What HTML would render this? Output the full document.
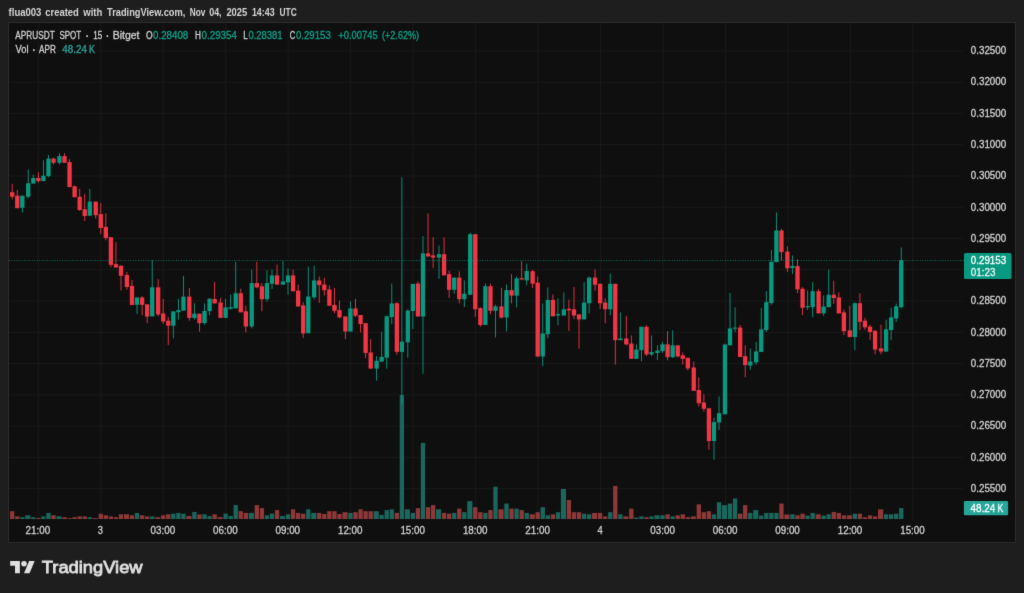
<!DOCTYPE html>
<html lang="en"><head><meta charset="utf-8">
<title>APRUSDT SPOT · 15 · Bitget — TradingView</title>
<style>
html,body{margin:0;padding:0;background:#1e1e1e;}
body{width:1024px;height:593px;overflow:hidden;}
svg{display:block;will-change:transform;}
text{font-family:"Liberation Sans", "DejaVu Sans", sans-serif;}
</style></head><body>
<svg width="1024" height="593" viewBox="0 0 1024 593" role="img" aria-label="APRUSDT SPOT 15 minute candlestick chart">
<defs><filter id="soft" x="0" y="0" width="1024" height="593" filterUnits="userSpaceOnUse" color-interpolation-filters="sRGB"><feConvolveMatrix order="3" kernelMatrix="0.00810 0.07380 0.00810 0.07380 0.67240 0.07380 0.00810 0.07380 0.00810" divisor="1" edgeMode="duplicate" preserveAlpha="true"/></filter></defs>
<g filter="url(#soft)">
<rect width="1024" height="593" fill="#1e1e1e"/>
<rect x="8.5" y="22.5" width="1007" height="520" fill="#0f0f0f" stroke="#2c2c2c" stroke-width="1"/>
<g stroke="#1a1a1a" stroke-width="1" fill="none">
<line x1="38.30" y1="23" x2="38.30" y2="519.5"/>
<line x1="100.77" y1="23" x2="100.77" y2="519.5"/>
<line x1="163.24" y1="23" x2="163.24" y2="519.5"/>
<line x1="225.71" y1="23" x2="225.71" y2="519.5"/>
<line x1="288.18" y1="23" x2="288.18" y2="519.5"/>
<line x1="350.65" y1="23" x2="350.65" y2="519.5"/>
<line x1="413.12" y1="23" x2="413.12" y2="519.5"/>
<line x1="475.59" y1="23" x2="475.59" y2="519.5"/>
<line x1="538.06" y1="23" x2="538.06" y2="519.5"/>
<line x1="600.53" y1="23" x2="600.53" y2="519.5"/>
<line x1="663.00" y1="23" x2="663.00" y2="519.5"/>
<line x1="725.47" y1="23" x2="725.47" y2="519.5"/>
<line x1="787.94" y1="23" x2="787.94" y2="519.5"/>
<line x1="850.41" y1="23" x2="850.41" y2="519.5"/>
<line x1="912.88" y1="23" x2="912.88" y2="519.5"/>
<line x1="9" y1="50.90" x2="962.9" y2="50.90"/>
<line x1="9" y1="82.17" x2="962.9" y2="82.17"/>
<line x1="9" y1="113.44" x2="962.9" y2="113.44"/>
<line x1="9" y1="144.71" x2="962.9" y2="144.71"/>
<line x1="9" y1="175.98" x2="962.9" y2="175.98"/>
<line x1="9" y1="207.25" x2="962.9" y2="207.25"/>
<line x1="9" y1="238.52" x2="962.9" y2="238.52"/>
<line x1="9" y1="269.79" x2="962.9" y2="269.79"/>
<line x1="9" y1="301.06" x2="962.9" y2="301.06"/>
<line x1="9" y1="332.33" x2="962.9" y2="332.33"/>
<line x1="9" y1="363.60" x2="962.9" y2="363.60"/>
<line x1="9" y1="394.87" x2="962.9" y2="394.87"/>
<line x1="9" y1="426.14" x2="962.9" y2="426.14"/>
<line x1="9" y1="457.41" x2="962.9" y2="457.41"/>
<line x1="9" y1="488.68" x2="962.9" y2="488.68"/>
</g>
<g><rect x="10.05" y="511.20" width="4.30" height="7.80" fill="#8f3838"/><rect x="15.11" y="516.40" width="4.30" height="2.60" fill="#8f3838"/><rect x="20.17" y="517.20" width="4.30" height="1.80" fill="#1a675d"/><rect x="25.24" y="515.30" width="5.14" height="3.70" fill="#1a675d"/><rect x="31.14" y="517.20" width="4.30" height="1.80" fill="#1a675d"/><rect x="36.20" y="517.90" width="4.30" height="1.10" fill="#8f3838"/><rect x="41.26" y="516.40" width="4.30" height="2.60" fill="#1a675d"/><rect x="46.32" y="512.90" width="4.30" height="6.10" fill="#1a675d"/><rect x="51.38" y="515.30" width="4.30" height="3.70" fill="#8f3838"/><rect x="56.45" y="516.40" width="5.14" height="2.60" fill="#1a675d"/><rect x="62.35" y="517.20" width="4.30" height="1.80" fill="#8f3838"/><rect x="67.41" y="518.10" width="4.30" height="0.90" fill="#8f3838"/><rect x="72.47" y="517.20" width="4.30" height="1.80" fill="#8f3838"/><rect x="77.53" y="516.40" width="4.30" height="2.60" fill="#8f3838"/><rect x="82.59" y="516.40" width="4.30" height="2.60" fill="#8f3838"/><rect x="87.65" y="517.20" width="4.30" height="1.80" fill="#1a675d"/><rect x="92.72" y="518.10" width="5.14" height="0.90" fill="#8f3838"/><rect x="98.62" y="513.70" width="4.30" height="5.30" fill="#8f3838"/><rect x="103.68" y="515.30" width="4.30" height="3.70" fill="#8f3838"/><rect x="108.74" y="516.40" width="4.30" height="2.60" fill="#8f3838"/><rect x="113.80" y="517.20" width="4.30" height="1.80" fill="#8f3838"/><rect x="118.86" y="514.30" width="4.30" height="4.70" fill="#8f3838"/><rect x="123.93" y="514.30" width="5.14" height="4.70" fill="#8f3838"/><rect x="129.83" y="515.30" width="4.30" height="3.70" fill="#8f3838"/><rect x="134.89" y="512.90" width="4.30" height="6.10" fill="#1a675d"/><rect x="139.95" y="515.30" width="4.30" height="3.70" fill="#8f3838"/><rect x="145.01" y="516.40" width="4.30" height="2.60" fill="#8f3838"/><rect x="150.07" y="516.40" width="4.30" height="2.60" fill="#1a675d"/><rect x="155.14" y="517.20" width="5.14" height="1.80" fill="#8f3838"/><rect x="161.04" y="515.30" width="4.30" height="3.70" fill="#8f3838"/><rect x="166.10" y="514.30" width="4.30" height="4.70" fill="#8f3838"/><rect x="171.16" y="513.70" width="4.30" height="5.30" fill="#1a675d"/><rect x="176.22" y="512.90" width="4.30" height="6.10" fill="#1a675d"/><rect x="181.28" y="513.70" width="4.30" height="5.30" fill="#1a675d"/><rect x="186.34" y="516.10" width="5.14" height="2.90" fill="#8f3838"/><rect x="192.25" y="512.00" width="4.30" height="7.00" fill="#1a675d"/><rect x="197.31" y="514.50" width="4.30" height="4.50" fill="#8f3838"/><rect x="202.37" y="514.30" width="4.30" height="4.70" fill="#1a675d"/><rect x="207.43" y="516.10" width="4.30" height="2.90" fill="#1a675d"/><rect x="212.49" y="514.30" width="4.30" height="4.70" fill="#8f3838"/><rect x="217.55" y="517.20" width="5.14" height="1.80" fill="#8f3838"/><rect x="223.46" y="513.60" width="4.30" height="5.40" fill="#1a675d"/><rect x="228.52" y="516.10" width="4.30" height="2.90" fill="#1a675d"/><rect x="233.58" y="505.10" width="4.30" height="13.90" fill="#1a675d"/><rect x="238.64" y="511.20" width="4.30" height="7.80" fill="#8f3838"/><rect x="243.70" y="512.90" width="4.30" height="6.10" fill="#8f3838"/><rect x="248.76" y="512.90" width="5.14" height="6.10" fill="#1a675d"/><rect x="254.66" y="505.10" width="4.30" height="13.90" fill="#8f3838"/><rect x="259.73" y="508.10" width="4.30" height="10.90" fill="#8f3838"/><rect x="264.79" y="515.30" width="4.30" height="3.70" fill="#1a675d"/><rect x="269.85" y="513.60" width="4.30" height="5.40" fill="#1a675d"/><rect x="274.91" y="510.10" width="4.30" height="8.90" fill="#8f3838"/><rect x="279.97" y="516.10" width="5.14" height="2.90" fill="#1a675d"/><rect x="285.87" y="514.30" width="4.30" height="4.70" fill="#1a675d"/><rect x="290.94" y="509.30" width="4.30" height="9.70" fill="#8f3838"/><rect x="296.00" y="512.90" width="4.30" height="6.10" fill="#8f3838"/><rect x="301.06" y="513.70" width="4.30" height="5.30" fill="#8f3838"/><rect x="306.12" y="509.30" width="4.30" height="9.70" fill="#1a675d"/><rect x="311.18" y="512.90" width="5.14" height="6.10" fill="#1a675d"/><rect x="317.08" y="512.90" width="4.30" height="6.10" fill="#8f3838"/><rect x="322.15" y="514.00" width="4.30" height="5.00" fill="#8f3838"/><rect x="327.21" y="511.20" width="4.30" height="7.80" fill="#8f3838"/><rect x="332.27" y="511.20" width="4.30" height="7.80" fill="#8f3838"/><rect x="337.33" y="514.00" width="4.30" height="5.00" fill="#8f3838"/><rect x="342.39" y="512.20" width="5.14" height="6.80" fill="#8f3838"/><rect x="348.29" y="512.90" width="4.30" height="6.10" fill="#1a675d"/><rect x="353.35" y="512.20" width="4.30" height="6.80" fill="#8f3838"/><rect x="358.42" y="509.30" width="4.30" height="9.70" fill="#8f3838"/><rect x="363.48" y="511.20" width="4.30" height="7.80" fill="#8f3838"/><rect x="368.54" y="511.20" width="4.30" height="7.80" fill="#8f3838"/><rect x="373.60" y="511.20" width="5.14" height="7.80" fill="#1a675d"/><rect x="379.50" y="514.80" width="4.30" height="4.20" fill="#1a675d"/><rect x="384.56" y="510.10" width="4.30" height="8.90" fill="#1a675d"/><rect x="389.62" y="509.30" width="4.30" height="9.70" fill="#1a675d"/><rect x="394.69" y="512.90" width="4.30" height="6.10" fill="#8f3838"/><rect x="399.75" y="395.00" width="4.30" height="124.00" fill="#1a675d"/><rect x="404.81" y="509.30" width="5.14" height="9.70" fill="#1a675d"/><rect x="410.71" y="512.90" width="4.30" height="6.10" fill="#1a675d"/><rect x="415.77" y="508.10" width="4.30" height="10.90" fill="#8f3838"/><rect x="420.83" y="442.90" width="4.30" height="76.10" fill="#1a675d"/><rect x="425.90" y="507.20" width="4.30" height="11.80" fill="#8f3838"/><rect x="430.96" y="505.10" width="4.30" height="13.90" fill="#8f3838"/><rect x="436.02" y="509.30" width="5.14" height="9.70" fill="#1a675d"/><rect x="441.92" y="512.90" width="4.30" height="6.10" fill="#8f3838"/><rect x="446.98" y="513.70" width="4.30" height="5.30" fill="#8f3838"/><rect x="452.04" y="512.90" width="4.30" height="6.10" fill="#1a675d"/><rect x="457.11" y="508.60" width="4.30" height="10.40" fill="#8f3838"/><rect x="462.17" y="512.20" width="4.30" height="6.80" fill="#1a675d"/><rect x="467.23" y="501.10" width="5.14" height="17.90" fill="#1a675d"/><rect x="473.13" y="507.20" width="4.30" height="11.80" fill="#8f3838"/><rect x="478.19" y="512.20" width="4.30" height="6.80" fill="#8f3838"/><rect x="483.25" y="512.90" width="4.30" height="6.10" fill="#1a675d"/><rect x="488.31" y="510.10" width="4.30" height="8.90" fill="#8f3838"/><rect x="493.38" y="486.70" width="4.30" height="32.30" fill="#1a675d"/><rect x="498.44" y="509.30" width="5.14" height="9.70" fill="#8f3838"/><rect x="504.34" y="503.60" width="4.30" height="15.40" fill="#1a675d"/><rect x="509.40" y="508.60" width="4.30" height="10.40" fill="#8f3838"/><rect x="514.46" y="508.60" width="4.30" height="10.40" fill="#1a675d"/><rect x="519.52" y="510.10" width="4.30" height="8.90" fill="#8f3838"/><rect x="524.59" y="512.90" width="4.30" height="6.10" fill="#1a675d"/><rect x="529.65" y="514.30" width="5.14" height="4.70" fill="#8f3838"/><rect x="535.55" y="512.20" width="4.30" height="6.80" fill="#8f3838"/><rect x="540.61" y="507.20" width="4.30" height="11.80" fill="#1a675d"/><rect x="545.67" y="515.30" width="4.30" height="3.70" fill="#1a675d"/><rect x="550.73" y="514.30" width="4.30" height="4.70" fill="#8f3838"/><rect x="555.79" y="512.20" width="4.30" height="6.80" fill="#1a675d"/><rect x="560.86" y="489.00" width="5.14" height="30.00" fill="#1a675d"/><rect x="566.76" y="500.00" width="4.30" height="19.00" fill="#8f3838"/><rect x="571.82" y="512.20" width="4.30" height="6.80" fill="#8f3838"/><rect x="576.88" y="512.20" width="4.30" height="6.80" fill="#8f3838"/><rect x="581.94" y="513.70" width="4.30" height="5.30" fill="#1a675d"/><rect x="587.00" y="514.30" width="4.30" height="4.70" fill="#1a675d"/><rect x="592.07" y="512.90" width="5.14" height="6.10" fill="#8f3838"/><rect x="597.97" y="512.90" width="4.30" height="6.10" fill="#8f3838"/><rect x="603.03" y="516.40" width="4.30" height="2.60" fill="#8f3838"/><rect x="608.09" y="512.20" width="4.30" height="6.80" fill="#1a675d"/><rect x="613.15" y="485.90" width="4.30" height="33.10" fill="#8f3838"/><rect x="618.21" y="514.30" width="4.30" height="4.70" fill="#1a675d"/><rect x="623.28" y="516.40" width="5.14" height="2.60" fill="#8f3838"/><rect x="629.18" y="508.60" width="4.30" height="10.40" fill="#8f3838"/><rect x="634.24" y="517.50" width="4.30" height="1.50" fill="#1a675d"/><rect x="639.30" y="516.40" width="4.30" height="2.60" fill="#1a675d"/><rect x="644.36" y="517.20" width="4.30" height="1.80" fill="#8f3838"/><rect x="649.42" y="516.40" width="4.30" height="2.60" fill="#1a675d"/><rect x="654.49" y="515.30" width="5.14" height="3.70" fill="#1a675d"/><rect x="660.39" y="515.30" width="4.30" height="3.70" fill="#1a675d"/><rect x="665.45" y="514.30" width="4.30" height="4.70" fill="#8f3838"/><rect x="670.51" y="516.40" width="4.30" height="2.60" fill="#1a675d"/><rect x="675.57" y="515.30" width="4.30" height="3.70" fill="#8f3838"/><rect x="680.63" y="514.30" width="4.30" height="4.70" fill="#8f3838"/><rect x="685.69" y="517.20" width="4.30" height="1.80" fill="#8f3838"/><rect x="690.76" y="516.40" width="5.14" height="2.60" fill="#8f3838"/><rect x="696.66" y="504.30" width="4.30" height="14.70" fill="#8f3838"/><rect x="701.72" y="512.20" width="4.30" height="6.80" fill="#8f3838"/><rect x="706.78" y="511.20" width="4.30" height="7.80" fill="#8f3838"/><rect x="711.84" y="514.30" width="4.30" height="4.70" fill="#1a675d"/><rect x="716.90" y="502.20" width="4.30" height="16.80" fill="#1a675d"/><rect x="721.97" y="505.10" width="5.14" height="13.90" fill="#1a675d"/><rect x="727.87" y="503.60" width="4.30" height="15.40" fill="#1a675d"/><rect x="732.93" y="498.40" width="4.30" height="20.60" fill="#1a675d"/><rect x="737.99" y="513.70" width="4.30" height="5.30" fill="#8f3838"/><rect x="743.05" y="505.10" width="4.30" height="13.90" fill="#8f3838"/><rect x="748.11" y="512.90" width="4.30" height="6.10" fill="#1a675d"/><rect x="753.18" y="510.10" width="5.14" height="8.90" fill="#1a675d"/><rect x="759.08" y="515.60" width="4.30" height="3.40" fill="#1a675d"/><rect x="764.14" y="512.90" width="4.30" height="6.10" fill="#1a675d"/><rect x="769.20" y="512.90" width="4.30" height="6.10" fill="#1a675d"/><rect x="774.26" y="512.90" width="4.30" height="6.10" fill="#1a675d"/><rect x="779.32" y="503.60" width="4.30" height="15.40" fill="#8f3838"/><rect x="784.39" y="514.50" width="5.14" height="4.50" fill="#8f3838"/><rect x="790.29" y="514.30" width="4.30" height="4.70" fill="#1a675d"/><rect x="795.35" y="515.30" width="4.30" height="3.70" fill="#8f3838"/><rect x="800.41" y="513.70" width="4.30" height="5.30" fill="#8f3838"/><rect x="805.47" y="515.60" width="4.30" height="3.40" fill="#1a675d"/><rect x="810.53" y="512.90" width="4.30" height="6.10" fill="#1a675d"/><rect x="815.60" y="514.30" width="5.14" height="4.70" fill="#8f3838"/><rect x="821.50" y="515.60" width="4.30" height="3.40" fill="#1a675d"/><rect x="826.56" y="514.30" width="4.30" height="4.70" fill="#1a675d"/><rect x="831.62" y="512.00" width="4.30" height="7.00" fill="#8f3838"/><rect x="836.68" y="512.90" width="4.30" height="6.10" fill="#8f3838"/><rect x="841.74" y="515.30" width="4.30" height="3.70" fill="#8f3838"/><rect x="846.81" y="515.30" width="5.14" height="3.70" fill="#8f3838"/><rect x="852.71" y="513.70" width="4.30" height="5.30" fill="#1a675d"/><rect x="857.77" y="513.70" width="4.30" height="5.30" fill="#8f3838"/><rect x="862.83" y="517.20" width="4.30" height="1.80" fill="#8f3838"/><rect x="867.89" y="515.30" width="4.30" height="3.70" fill="#8f3838"/><rect x="872.95" y="516.40" width="4.30" height="2.60" fill="#8f3838"/><rect x="878.02" y="509.30" width="5.14" height="9.70" fill="#8f3838"/><rect x="883.92" y="514.30" width="4.30" height="4.70" fill="#1a675d"/><rect x="888.98" y="514.30" width="4.30" height="4.70" fill="#1a675d"/><rect x="894.04" y="513.70" width="4.30" height="5.30" fill="#1a675d"/><rect x="899.10" y="508.10" width="4.30" height="10.90" fill="#1a675d"/></g>
<g><rect x="11.75" y="183.90" width="0.9" height="15.35" fill="#f23645"/><rect x="16.81" y="189.90" width="0.9" height="18.30" fill="#f23645"/><rect x="21.87" y="195.70" width="0.9" height="16.80" fill="#089981"/><rect x="27.78" y="169.40" width="0.9" height="28.90" fill="#089981"/><rect x="32.84" y="174.60" width="0.9" height="9.00" fill="#089981"/><rect x="37.90" y="172.20" width="0.9" height="10.50" fill="#f23645"/><rect x="42.96" y="160.20" width="0.9" height="20.90" fill="#089981"/><rect x="48.02" y="155.00" width="0.9" height="22.20" fill="#089981"/><rect x="53.08" y="157.70" width="0.9" height="6.70" fill="#f23645"/><rect x="58.99" y="153.20" width="0.9" height="11.20" fill="#089981"/><rect x="64.05" y="153.20" width="0.9" height="9.60" fill="#f23645"/><rect x="69.11" y="159.25" width="0.9" height="27.85" fill="#f23645"/><rect x="74.17" y="185.50" width="0.9" height="11.70" fill="#f23645"/><rect x="79.23" y="188.90" width="0.9" height="21.90" fill="#f23645"/><rect x="84.29" y="194.10" width="0.9" height="26.90" fill="#f23645"/><rect x="89.35" y="188.90" width="0.9" height="26.80" fill="#089981"/><rect x="95.26" y="201.60" width="0.9" height="17.00" fill="#f23645"/><rect x="100.32" y="203.00" width="0.9" height="30.90" fill="#f23645"/><rect x="105.38" y="213.30" width="0.9" height="26.90" fill="#f23645"/><rect x="110.44" y="237.20" width="0.9" height="30.00" fill="#f23645"/><rect x="115.50" y="242.20" width="0.9" height="25.30" fill="#f23645"/><rect x="120.56" y="264.90" width="0.9" height="25.70" fill="#f23645"/><rect x="126.47" y="271.90" width="0.9" height="17.90" fill="#f23645"/><rect x="131.53" y="280.00" width="0.9" height="25.00" fill="#f23645"/><rect x="136.59" y="297.50" width="0.9" height="16.70" fill="#089981"/><rect x="141.65" y="296.30" width="0.9" height="18.90" fill="#f23645"/><rect x="146.71" y="304.30" width="0.9" height="18.80" fill="#f23645"/><rect x="151.77" y="260.20" width="0.9" height="56.20" fill="#089981"/><rect x="157.68" y="279.20" width="0.9" height="37.00" fill="#f23645"/><rect x="162.74" y="299.00" width="0.9" height="24.90" fill="#f23645"/><rect x="167.80" y="317.10" width="0.9" height="27.90" fill="#f23645"/><rect x="172.86" y="311.40" width="0.9" height="27.00" fill="#089981"/><rect x="177.92" y="298.80" width="0.9" height="20.80" fill="#089981"/><rect x="182.98" y="275.80" width="0.9" height="34.80" fill="#089981"/><rect x="188.89" y="288.00" width="0.9" height="32.70" fill="#f23645"/><rect x="193.95" y="303.30" width="0.9" height="16.30" fill="#089981"/><rect x="199.01" y="313.70" width="0.9" height="18.00" fill="#f23645"/><rect x="204.07" y="303.30" width="0.9" height="21.30" fill="#089981"/><rect x="209.13" y="298.00" width="0.9" height="17.20" fill="#089981"/><rect x="214.19" y="282.00" width="0.9" height="21.40" fill="#f23645"/><rect x="220.09" y="298.10" width="0.9" height="19.80" fill="#f23645"/><rect x="225.16" y="298.80" width="0.9" height="19.10" fill="#089981"/><rect x="230.22" y="294.50" width="0.9" height="15.00" fill="#089981"/><rect x="235.28" y="261.70" width="0.9" height="46.60" fill="#089981"/><rect x="240.34" y="288.60" width="0.9" height="23.70" fill="#f23645"/><rect x="245.40" y="305.70" width="0.9" height="26.70" fill="#f23645"/><rect x="251.30" y="269.50" width="0.9" height="58.90" fill="#089981"/><rect x="256.37" y="261.70" width="0.9" height="26.50" fill="#f23645"/><rect x="261.43" y="283.20" width="0.9" height="28.10" fill="#f23645"/><rect x="266.49" y="270.20" width="0.9" height="31.30" fill="#089981"/><rect x="271.55" y="269.50" width="0.9" height="19.50" fill="#089981"/><rect x="276.61" y="264.50" width="0.9" height="20.10" fill="#f23645"/><rect x="282.51" y="260.90" width="0.9" height="23.70" fill="#089981"/><rect x="287.57" y="268.40" width="0.9" height="26.40" fill="#089981"/><rect x="292.64" y="269.50" width="0.9" height="21.80" fill="#f23645"/><rect x="297.70" y="284.60" width="0.9" height="21.90" fill="#f23645"/><rect x="302.76" y="302.30" width="0.9" height="35.60" fill="#f23645"/><rect x="307.82" y="266.65" width="0.9" height="66.55" fill="#089981"/><rect x="313.72" y="265.60" width="0.9" height="33.55" fill="#089981"/><rect x="318.78" y="276.50" width="0.9" height="26.50" fill="#f23645"/><rect x="323.85" y="277.70" width="0.9" height="17.90" fill="#f23645"/><rect x="328.91" y="285.40" width="0.9" height="20.30" fill="#f23645"/><rect x="333.97" y="287.90" width="0.9" height="25.30" fill="#f23645"/><rect x="339.03" y="300.70" width="0.9" height="17.70" fill="#f23645"/><rect x="344.93" y="316.50" width="0.9" height="22.60" fill="#f23645"/><rect x="349.99" y="301.50" width="0.9" height="30.00" fill="#089981"/><rect x="355.05" y="298.80" width="0.9" height="18.40" fill="#f23645"/><rect x="360.12" y="315.00" width="0.9" height="17.50" fill="#f23645"/><rect x="365.18" y="323.20" width="0.9" height="34.50" fill="#f23645"/><rect x="370.24" y="339.10" width="0.9" height="29.50" fill="#f23645"/><rect x="376.14" y="356.10" width="0.9" height="24.50" fill="#089981"/><rect x="381.20" y="331.70" width="0.9" height="29.90" fill="#089981"/><rect x="386.26" y="315.50" width="0.9" height="53.10" fill="#089981"/><rect x="391.32" y="283.50" width="0.9" height="40.50" fill="#089981"/><rect x="396.39" y="302.30" width="0.9" height="52.50" fill="#f23645"/><rect x="401.45" y="177.20" width="0.9" height="227.60" fill="#089981"/><rect x="407.35" y="309.20" width="0.9" height="48.50" fill="#089981"/><rect x="412.41" y="283.90" width="0.9" height="45.20" fill="#089981"/><rect x="417.47" y="281.50" width="0.9" height="35.00" fill="#f23645"/><rect x="422.53" y="236.10" width="0.9" height="137.65" fill="#089981"/><rect x="427.60" y="213.40" width="0.9" height="43.10" fill="#f23645"/><rect x="432.66" y="237.20" width="0.9" height="30.70" fill="#f23645"/><rect x="438.56" y="245.50" width="0.9" height="33.40" fill="#089981"/><rect x="443.62" y="237.20" width="0.9" height="38.10" fill="#f23645"/><rect x="448.68" y="270.60" width="0.9" height="27.30" fill="#f23645"/><rect x="453.74" y="277.60" width="0.9" height="16.10" fill="#089981"/><rect x="458.81" y="271.40" width="0.9" height="32.00" fill="#f23645"/><rect x="463.87" y="280.40" width="0.9" height="26.60" fill="#089981"/><rect x="469.77" y="232.50" width="0.9" height="62.30" fill="#089981"/><rect x="474.83" y="234.20" width="0.9" height="82.55" fill="#f23645"/><rect x="479.89" y="307.30" width="0.9" height="19.50" fill="#f23645"/><rect x="484.95" y="283.55" width="0.9" height="41.45" fill="#089981"/><rect x="490.01" y="283.55" width="0.9" height="30.70" fill="#f23645"/><rect x="495.08" y="304.70" width="0.9" height="32.80" fill="#089981"/><rect x="500.98" y="287.80" width="0.9" height="30.60" fill="#f23645"/><rect x="506.04" y="284.60" width="0.9" height="46.70" fill="#089981"/><rect x="511.10" y="274.20" width="0.9" height="29.20" fill="#f23645"/><rect x="516.16" y="276.40" width="0.9" height="30.95" fill="#089981"/><rect x="521.22" y="261.20" width="0.9" height="18.30" fill="#f23645"/><rect x="526.28" y="263.55" width="0.9" height="21.85" fill="#089981"/><rect x="532.19" y="270.00" width="0.9" height="18.00" fill="#f23645"/><rect x="537.25" y="276.45" width="0.9" height="80.75" fill="#f23645"/><rect x="542.31" y="303.40" width="0.9" height="62.70" fill="#089981"/><rect x="547.37" y="287.40" width="0.9" height="50.90" fill="#089981"/><rect x="552.43" y="294.40" width="0.9" height="21.90" fill="#f23645"/><rect x="557.49" y="298.40" width="0.9" height="26.80" fill="#089981"/><rect x="563.40" y="292.40" width="0.9" height="23.10" fill="#089981"/><rect x="568.46" y="299.60" width="0.9" height="31.40" fill="#f23645"/><rect x="573.52" y="287.10" width="0.9" height="31.90" fill="#f23645"/><rect x="578.58" y="314.40" width="0.9" height="34.30" fill="#f23645"/><rect x="583.64" y="282.20" width="0.9" height="37.20" fill="#089981"/><rect x="588.70" y="276.50" width="0.9" height="37.00" fill="#089981"/><rect x="594.61" y="269.40" width="0.9" height="21.10" fill="#f23645"/><rect x="599.67" y="283.80" width="0.9" height="25.20" fill="#f23645"/><rect x="604.73" y="298.30" width="0.9" height="25.00" fill="#f23645"/><rect x="609.79" y="273.65" width="0.9" height="41.55" fill="#089981"/><rect x="614.85" y="283.80" width="0.9" height="80.80" fill="#f23645"/><rect x="619.91" y="312.40" width="0.9" height="27.80" fill="#089981"/><rect x="625.82" y="315.80" width="0.9" height="29.55" fill="#f23645"/><rect x="630.88" y="335.45" width="0.9" height="23.35" fill="#f23645"/><rect x="635.94" y="344.35" width="0.9" height="14.45" fill="#089981"/><rect x="641.00" y="326.80" width="0.9" height="34.30" fill="#089981"/><rect x="646.06" y="325.20" width="0.9" height="30.80" fill="#f23645"/><rect x="651.12" y="335.45" width="0.9" height="20.55" fill="#089981"/><rect x="657.03" y="345.35" width="0.9" height="14.55" fill="#089981"/><rect x="662.09" y="341.85" width="0.9" height="11.15" fill="#089981"/><rect x="667.15" y="331.10" width="0.9" height="29.30" fill="#f23645"/><rect x="672.21" y="330.30" width="0.9" height="27.70" fill="#089981"/><rect x="677.27" y="345.35" width="0.9" height="11.85" fill="#f23645"/><rect x="682.33" y="352.55" width="0.9" height="12.10" fill="#f23645"/><rect x="687.39" y="357.50" width="0.9" height="13.05" fill="#f23645"/><rect x="693.30" y="361.55" width="0.9" height="29.30" fill="#f23645"/><rect x="698.36" y="377.40" width="0.9" height="29.05" fill="#f23645"/><rect x="703.42" y="394.30" width="0.9" height="17.15" fill="#f23645"/><rect x="708.48" y="408.30" width="0.9" height="41.40" fill="#f23645"/><rect x="713.54" y="417.70" width="0.9" height="42.00" fill="#089981"/><rect x="718.60" y="396.30" width="0.9" height="33.60" fill="#089981"/><rect x="724.51" y="343.70" width="0.9" height="70.60" fill="#089981"/><rect x="729.57" y="293.00" width="0.9" height="52.30" fill="#089981"/><rect x="734.63" y="307.30" width="0.9" height="24.70" fill="#089981"/><rect x="739.69" y="325.00" width="0.9" height="32.00" fill="#f23645"/><rect x="744.75" y="345.30" width="0.9" height="31.80" fill="#f23645"/><rect x="749.81" y="348.40" width="0.9" height="21.40" fill="#089981"/><rect x="755.72" y="341.70" width="0.9" height="23.00" fill="#089981"/><rect x="760.78" y="308.10" width="0.9" height="43.80" fill="#089981"/><rect x="765.84" y="291.10" width="0.9" height="40.90" fill="#089981"/><rect x="770.90" y="250.00" width="0.9" height="54.70" fill="#089981"/><rect x="775.96" y="212.50" width="0.9" height="49.60" fill="#089981"/><rect x="781.02" y="228.95" width="0.9" height="31.55" fill="#f23645"/><rect x="786.93" y="246.45" width="0.9" height="25.45" fill="#f23645"/><rect x="791.99" y="255.50" width="0.9" height="18.45" fill="#089981"/><rect x="797.05" y="259.40" width="0.9" height="33.60" fill="#f23645"/><rect x="802.11" y="287.20" width="0.9" height="27.90" fill="#f23645"/><rect x="807.17" y="290.35" width="0.9" height="19.65" fill="#089981"/><rect x="812.23" y="282.25" width="0.9" height="35.00" fill="#089981"/><rect x="818.14" y="289.00" width="0.9" height="24.35" fill="#f23645"/><rect x="823.20" y="295.55" width="0.9" height="20.25" fill="#089981"/><rect x="828.26" y="269.60" width="0.9" height="37.60" fill="#089981"/><rect x="833.32" y="280.70" width="0.9" height="23.15" fill="#f23645"/><rect x="838.38" y="292.40" width="0.9" height="20.95" fill="#f23645"/><rect x="843.44" y="309.50" width="0.9" height="25.60" fill="#f23645"/><rect x="849.35" y="305.90" width="0.9" height="31.20" fill="#f23645"/><rect x="854.41" y="302.30" width="0.9" height="47.80" fill="#089981"/><rect x="859.47" y="293.20" width="0.9" height="36.90" fill="#f23645"/><rect x="864.53" y="317.60" width="0.9" height="12.20" fill="#f23645"/><rect x="869.59" y="324.60" width="0.9" height="15.60" fill="#f23645"/><rect x="874.65" y="330.10" width="0.9" height="24.20" fill="#f23645"/><rect x="880.56" y="324.60" width="0.9" height="29.70" fill="#f23645"/><rect x="885.62" y="319.60" width="0.9" height="32.40" fill="#089981"/><rect x="890.68" y="307.75" width="0.9" height="32.45" fill="#089981"/><rect x="895.74" y="303.50" width="0.9" height="18.30" fill="#089981"/><rect x="900.80" y="247.40" width="0.9" height="61.20" fill="#089981"/></g>
<g><rect x="10.05" y="192.20" width="4.30" height="4.55" fill="#f23645"/><rect x="15.11" y="195.70" width="4.30" height="12.50" fill="#f23645"/><rect x="20.17" y="195.70" width="4.30" height="12.10" fill="#089981"/><rect x="26.08" y="183.20" width="4.30" height="13.55" fill="#089981"/><rect x="31.14" y="178.00" width="4.30" height="5.60" fill="#089981"/><rect x="36.20" y="178.00" width="4.30" height="3.10" fill="#f23645"/><rect x="41.26" y="175.80" width="4.30" height="5.30" fill="#089981"/><rect x="46.32" y="158.60" width="4.30" height="17.50" fill="#089981"/><rect x="51.38" y="158.60" width="4.30" height="4.20" fill="#f23645"/><rect x="57.29" y="156.10" width="4.30" height="6.70" fill="#089981"/><rect x="62.35" y="156.10" width="4.30" height="6.70" fill="#f23645"/><rect x="67.41" y="162.10" width="4.30" height="25.00" fill="#f23645"/><rect x="72.47" y="186.30" width="4.30" height="10.90" fill="#f23645"/><rect x="77.53" y="196.75" width="4.30" height="13.25" fill="#f23645"/><rect x="82.59" y="209.25" width="4.30" height="6.75" fill="#f23645"/><rect x="87.65" y="201.60" width="4.30" height="14.10" fill="#089981"/><rect x="93.56" y="201.60" width="4.30" height="13.60" fill="#f23645"/><rect x="98.62" y="214.10" width="4.30" height="13.90" fill="#f23645"/><rect x="103.68" y="226.90" width="4.30" height="11.00" fill="#f23645"/><rect x="108.74" y="237.20" width="4.30" height="27.60" fill="#f23645"/><rect x="113.80" y="264.10" width="4.30" height="3.40" fill="#f23645"/><rect x="118.86" y="265.90" width="4.30" height="9.90" fill="#f23645"/><rect x="124.77" y="275.00" width="4.30" height="12.00" fill="#f23645"/><rect x="129.83" y="285.90" width="4.30" height="19.10" fill="#f23645"/><rect x="134.89" y="297.50" width="4.30" height="7.30" fill="#089981"/><rect x="139.95" y="297.50" width="4.30" height="7.30" fill="#f23645"/><rect x="145.01" y="304.30" width="4.30" height="12.30" fill="#f23645"/><rect x="150.07" y="287.30" width="4.30" height="29.10" fill="#089981"/><rect x="155.98" y="287.30" width="4.30" height="27.20" fill="#f23645"/><rect x="161.04" y="313.50" width="4.30" height="8.00" fill="#f23645"/><rect x="166.10" y="320.70" width="4.30" height="5.00" fill="#f23645"/><rect x="171.16" y="311.40" width="4.30" height="14.30" fill="#089981"/><rect x="176.22" y="310.20" width="4.30" height="2.00" fill="#089981"/><rect x="181.28" y="296.60" width="4.30" height="14.00" fill="#089981"/><rect x="187.19" y="296.60" width="4.30" height="21.30" fill="#f23645"/><rect x="192.25" y="313.70" width="4.30" height="4.20" fill="#089981"/><rect x="197.31" y="313.70" width="4.30" height="9.40" fill="#f23645"/><rect x="202.37" y="311.00" width="4.30" height="12.10" fill="#089981"/><rect x="207.43" y="298.80" width="4.30" height="12.40" fill="#089981"/><rect x="212.49" y="299.00" width="4.30" height="4.40" fill="#f23645"/><rect x="218.39" y="302.50" width="4.30" height="15.40" fill="#f23645"/><rect x="223.46" y="307.40" width="4.30" height="10.50" fill="#089981"/><rect x="228.52" y="307.20" width="4.30" height="1.50" fill="#089981"/><rect x="233.58" y="293.20" width="4.30" height="15.10" fill="#089981"/><rect x="238.64" y="293.20" width="4.30" height="19.10" fill="#f23645"/><rect x="243.70" y="311.30" width="4.30" height="15.20" fill="#f23645"/><rect x="249.60" y="283.10" width="4.30" height="43.40" fill="#089981"/><rect x="254.66" y="283.10" width="4.30" height="4.30" fill="#f23645"/><rect x="259.73" y="286.30" width="4.30" height="12.90" fill="#f23645"/><rect x="264.79" y="283.10" width="4.30" height="16.10" fill="#089981"/><rect x="269.85" y="275.40" width="4.30" height="8.40" fill="#089981"/><rect x="274.91" y="275.40" width="4.30" height="9.20" fill="#f23645"/><rect x="280.81" y="281.50" width="4.30" height="3.10" fill="#089981"/><rect x="285.87" y="275.40" width="4.30" height="6.90" fill="#089981"/><rect x="290.94" y="275.40" width="4.30" height="15.90" fill="#f23645"/><rect x="296.00" y="290.60" width="4.30" height="15.90" fill="#f23645"/><rect x="301.06" y="305.40" width="4.30" height="28.10" fill="#f23645"/><rect x="306.12" y="296.50" width="4.30" height="36.70" fill="#089981"/><rect x="312.02" y="280.40" width="4.30" height="16.90" fill="#089981"/><rect x="317.08" y="280.40" width="4.30" height="4.70" fill="#f23645"/><rect x="322.15" y="284.60" width="4.30" height="5.60" fill="#f23645"/><rect x="327.21" y="289.50" width="4.30" height="16.20" fill="#f23645"/><rect x="332.27" y="304.90" width="4.30" height="6.00" fill="#f23645"/><rect x="337.33" y="310.10" width="4.30" height="7.30" fill="#f23645"/><rect x="343.23" y="316.50" width="4.30" height="15.00" fill="#f23645"/><rect x="348.29" y="308.50" width="4.30" height="23.00" fill="#089981"/><rect x="353.35" y="308.50" width="4.30" height="7.20" fill="#f23645"/><rect x="358.42" y="315.00" width="4.30" height="9.00" fill="#f23645"/><rect x="363.48" y="323.20" width="4.30" height="29.80" fill="#f23645"/><rect x="368.54" y="352.50" width="4.30" height="16.10" fill="#f23645"/><rect x="374.44" y="360.80" width="4.30" height="7.80" fill="#089981"/><rect x="379.50" y="356.90" width="4.30" height="4.70" fill="#089981"/><rect x="384.56" y="316.30" width="4.30" height="41.40" fill="#089981"/><rect x="389.62" y="303.40" width="4.30" height="13.60" fill="#089981"/><rect x="394.69" y="303.20" width="4.30" height="48.70" fill="#f23645"/><rect x="399.75" y="341.70" width="4.30" height="10.20" fill="#089981"/><rect x="405.65" y="310.60" width="4.30" height="31.70" fill="#089981"/><rect x="410.71" y="283.90" width="4.30" height="27.10" fill="#089981"/><rect x="415.77" y="283.55" width="4.30" height="32.95" fill="#f23645"/><rect x="420.83" y="253.40" width="4.30" height="63.10" fill="#089981"/><rect x="425.90" y="253.40" width="4.30" height="3.10" fill="#f23645"/><rect x="430.96" y="255.40" width="4.30" height="2.20" fill="#f23645"/><rect x="436.86" y="254.20" width="4.30" height="3.40" fill="#089981"/><rect x="441.92" y="254.20" width="4.30" height="21.10" fill="#f23645"/><rect x="446.98" y="274.20" width="4.30" height="15.60" fill="#f23645"/><rect x="452.04" y="277.60" width="4.30" height="12.20" fill="#089981"/><rect x="457.11" y="277.60" width="4.30" height="21.60" fill="#f23645"/><rect x="462.17" y="293.70" width="4.30" height="5.50" fill="#089981"/><rect x="468.07" y="234.20" width="4.30" height="60.60" fill="#089981"/><rect x="473.13" y="234.20" width="4.30" height="75.05" fill="#f23645"/><rect x="478.19" y="308.20" width="4.30" height="16.80" fill="#f23645"/><rect x="483.25" y="286.20" width="4.30" height="38.80" fill="#089981"/><rect x="488.31" y="286.20" width="4.30" height="24.60" fill="#f23645"/><rect x="493.38" y="306.40" width="4.30" height="4.40" fill="#089981"/><rect x="499.28" y="306.40" width="4.30" height="11.20" fill="#f23645"/><rect x="504.34" y="290.10" width="4.30" height="27.35" fill="#089981"/><rect x="509.40" y="290.10" width="4.30" height="5.50" fill="#f23645"/><rect x="514.46" y="278.40" width="4.30" height="17.20" fill="#089981"/><rect x="519.52" y="278.10" width="4.30" height="1.40" fill="#f23645"/><rect x="524.59" y="271.00" width="4.30" height="9.40" fill="#089981"/><rect x="530.49" y="271.20" width="4.30" height="12.50" fill="#f23645"/><rect x="535.55" y="282.65" width="4.30" height="73.80" fill="#f23645"/><rect x="540.61" y="333.50" width="4.30" height="22.95" fill="#089981"/><rect x="545.67" y="299.90" width="4.30" height="34.30" fill="#089981"/><rect x="550.73" y="299.90" width="4.30" height="16.40" fill="#f23645"/><rect x="555.79" y="314.10" width="4.30" height="1.45" fill="#089981"/><rect x="561.70" y="309.30" width="4.30" height="6.20" fill="#089981"/><rect x="566.76" y="308.80" width="4.30" height="1.60" fill="#f23645"/><rect x="571.82" y="309.30" width="4.30" height="6.20" fill="#f23645"/><rect x="576.88" y="314.40" width="4.30" height="5.00" fill="#f23645"/><rect x="581.94" y="302.60" width="4.30" height="16.80" fill="#089981"/><rect x="587.00" y="277.60" width="4.30" height="25.70" fill="#089981"/><rect x="592.91" y="277.60" width="4.30" height="7.10" fill="#f23645"/><rect x="597.97" y="283.80" width="4.30" height="19.50" fill="#f23645"/><rect x="603.03" y="302.60" width="4.30" height="6.70" fill="#f23645"/><rect x="608.09" y="283.80" width="4.30" height="25.50" fill="#089981"/><rect x="613.15" y="283.80" width="4.30" height="56.40" fill="#f23645"/><rect x="618.21" y="338.50" width="4.30" height="1.70" fill="#089981"/><rect x="624.12" y="338.50" width="4.30" height="5.85" fill="#f23645"/><rect x="629.18" y="343.60" width="4.30" height="15.20" fill="#f23645"/><rect x="634.24" y="349.60" width="4.30" height="9.20" fill="#089981"/><rect x="639.30" y="326.80" width="4.30" height="23.40" fill="#089981"/><rect x="644.36" y="326.80" width="4.30" height="27.60" fill="#f23645"/><rect x="649.42" y="352.10" width="4.30" height="2.30" fill="#089981"/><rect x="655.33" y="350.60" width="4.30" height="2.35" fill="#089981"/><rect x="660.39" y="344.35" width="4.30" height="6.75" fill="#089981"/><rect x="665.45" y="344.35" width="4.30" height="12.85" fill="#f23645"/><rect x="670.51" y="345.35" width="4.30" height="11.85" fill="#089981"/><rect x="675.57" y="345.35" width="4.30" height="11.10" fill="#f23645"/><rect x="680.63" y="355.35" width="4.30" height="3.50" fill="#f23645"/><rect x="685.69" y="357.90" width="4.30" height="10.50" fill="#f23645"/><rect x="691.60" y="367.50" width="4.30" height="23.35" fill="#f23645"/><rect x="696.66" y="390.05" width="4.30" height="13.25" fill="#f23645"/><rect x="701.72" y="402.50" width="4.30" height="6.30" fill="#f23645"/><rect x="706.78" y="408.30" width="4.30" height="32.70" fill="#f23645"/><rect x="711.84" y="422.10" width="4.30" height="18.90" fill="#089981"/><rect x="716.90" y="413.20" width="4.30" height="9.30" fill="#089981"/><rect x="722.81" y="344.50" width="4.30" height="69.80" fill="#089981"/><rect x="727.87" y="328.40" width="4.30" height="16.90" fill="#089981"/><rect x="732.93" y="327.60" width="4.30" height="1.10" fill="#089981"/><rect x="737.99" y="327.60" width="4.30" height="29.40" fill="#f23645"/><rect x="743.05" y="356.20" width="4.30" height="8.90" fill="#f23645"/><rect x="748.11" y="361.55" width="4.30" height="3.95" fill="#089981"/><rect x="754.02" y="351.40" width="4.30" height="10.90" fill="#089981"/><rect x="759.08" y="329.50" width="4.30" height="22.40" fill="#089981"/><rect x="764.14" y="302.20" width="4.30" height="27.80" fill="#089981"/><rect x="769.20" y="261.80" width="4.30" height="41.30" fill="#089981"/><rect x="774.26" y="230.50" width="4.30" height="31.60" fill="#089981"/><rect x="779.32" y="230.50" width="4.30" height="21.60" fill="#f23645"/><rect x="785.23" y="251.60" width="4.30" height="16.70" fill="#f23645"/><rect x="790.29" y="266.00" width="4.30" height="2.00" fill="#089981"/><rect x="795.35" y="266.10" width="4.30" height="23.30" fill="#f23645"/><rect x="800.41" y="288.80" width="4.30" height="19.00" fill="#f23645"/><rect x="805.47" y="306.10" width="4.30" height="1.20" fill="#089981"/><rect x="810.53" y="291.20" width="4.30" height="16.00" fill="#089981"/><rect x="816.44" y="291.20" width="4.30" height="22.15" fill="#f23645"/><rect x="821.50" y="306.60" width="4.30" height="6.75" fill="#089981"/><rect x="826.56" y="294.75" width="4.30" height="12.45" fill="#089981"/><rect x="831.62" y="294.75" width="4.30" height="3.30" fill="#f23645"/><rect x="836.68" y="297.50" width="4.30" height="15.85" fill="#f23645"/><rect x="841.74" y="312.40" width="4.30" height="18.80" fill="#f23645"/><rect x="847.65" y="330.40" width="4.30" height="6.70" fill="#f23645"/><rect x="852.71" y="303.20" width="4.30" height="33.90" fill="#089981"/><rect x="857.77" y="303.20" width="4.30" height="18.60" fill="#f23645"/><rect x="862.83" y="320.70" width="4.30" height="6.70" fill="#f23645"/><rect x="867.89" y="326.65" width="4.30" height="5.35" fill="#f23645"/><rect x="872.95" y="330.90" width="4.30" height="18.70" fill="#f23645"/><rect x="878.86" y="348.40" width="4.30" height="3.10" fill="#f23645"/><rect x="883.92" y="329.30" width="4.30" height="22.20" fill="#089981"/><rect x="888.98" y="317.30" width="4.30" height="12.80" fill="#089981"/><rect x="894.04" y="306.30" width="4.30" height="12.10" fill="#089981"/><rect x="899.10" y="260.20" width="4.30" height="47.00" fill="#089981"/></g>
<line x1="9" y1="260.5" x2="964" y2="260.5" stroke="#089981" stroke-width="1" stroke-dasharray="0.88 1.65" stroke-opacity="0.8"/>
<text x="8.60" y="16.00" font-size="10.60" fill="#d6d6d6" font-weight="bold" text-anchor="start" textLength="32.80" lengthAdjust="spacingAndGlyphs">flua003</text>
<text x="45.30" y="16.00" font-size="10.60" fill="#d6d6d6" font-weight="bold" text-anchor="start" textLength="33.60" lengthAdjust="spacingAndGlyphs">created</text>
<text x="83.30" y="16.00" font-size="10.60" fill="#d6d6d6" font-weight="bold" text-anchor="start" textLength="19.00" lengthAdjust="spacingAndGlyphs">with</text>
<text x="107.00" y="16.00" font-size="10.60" fill="#d6d6d6" font-weight="bold" text-anchor="start" textLength="78.30" lengthAdjust="spacingAndGlyphs">TradingView.com,</text>
<text x="189.70" y="16.00" font-size="10.60" fill="#d6d6d6" font-weight="bold" text-anchor="start" textLength="15.60" lengthAdjust="spacingAndGlyphs">Nov</text>
<text x="209.20" y="16.00" font-size="10.60" fill="#d6d6d6" font-weight="bold" text-anchor="start" textLength="12.40" lengthAdjust="spacingAndGlyphs">04,</text>
<text x="226.40" y="16.00" font-size="10.60" fill="#d6d6d6" font-weight="bold" text-anchor="start" textLength="20.90" lengthAdjust="spacingAndGlyphs">2025</text>
<text x="251.90" y="16.00" font-size="10.60" fill="#d6d6d6" font-weight="bold" text-anchor="start" textLength="22.80" lengthAdjust="spacingAndGlyphs">14:43</text>
<text x="279.50" y="16.00" font-size="10.60" fill="#d6d6d6" font-weight="bold" text-anchor="start" textLength="17.20" lengthAdjust="spacingAndGlyphs">UTC</text>
<text x="15.20" y="38.80" font-size="10.00" fill="#d1d1d1" font-weight="normal" text-anchor="start" textLength="39.50" lengthAdjust="spacingAndGlyphs" stroke="#d1d1d1" stroke-width="0.3" stroke-linejoin="round">APRUSDT</text>
<text x="59.40" y="38.80" font-size="10.00" fill="#d1d1d1" font-weight="normal" text-anchor="start" textLength="21.90" lengthAdjust="spacingAndGlyphs" stroke="#d1d1d1" stroke-width="0.3" stroke-linejoin="round">SPOT</text>
<text x="93.30" y="38.80" font-size="10.00" fill="#d1d1d1" font-weight="normal" text-anchor="start" textLength="9.00" lengthAdjust="spacingAndGlyphs" stroke="#d1d1d1" stroke-width="0.3" stroke-linejoin="round">15</text>
<text x="112.80" y="38.80" font-size="10.00" fill="#d1d1d1" font-weight="normal" text-anchor="start" textLength="26.70" lengthAdjust="spacingAndGlyphs" stroke="#d1d1d1" stroke-width="0.3" stroke-linejoin="round">Bitget</text>
<text x="87.40" y="39.80" font-size="11.50" fill="#d1d1d1" font-weight="bold" text-anchor="middle">·</text>
<text x="107.60" y="39.80" font-size="11.50" fill="#d1d1d1" font-weight="bold" text-anchor="middle">·</text>
<text x="34.20" y="53.80" font-size="11.50" fill="#d1d1d1" font-weight="bold" text-anchor="middle">·</text>
<text x="146.00" y="38.80" font-size="10.00" fill="#d1d1d1" font-weight="normal" text-anchor="start" textLength="6.60" lengthAdjust="spacingAndGlyphs" stroke="#d1d1d1" stroke-width="0.3" stroke-linejoin="round">O</text>
<text x="153.10" y="38.80" font-size="10.10" fill="#0aa189" font-weight="normal" text-anchor="start" textLength="35.10" lengthAdjust="spacingAndGlyphs" stroke="#0aa189" stroke-width="0.3" stroke-linejoin="round">0.28408</text>
<text x="194.90" y="38.80" font-size="10.00" fill="#d1d1d1" font-weight="normal" text-anchor="start" textLength="5.90" lengthAdjust="spacingAndGlyphs" stroke="#d1d1d1" stroke-width="0.3" stroke-linejoin="round">H</text>
<text x="201.60" y="38.80" font-size="10.10" fill="#0aa189" font-weight="normal" text-anchor="start" textLength="35.30" lengthAdjust="spacingAndGlyphs" stroke="#0aa189" stroke-width="0.3" stroke-linejoin="round">0.29354</text>
<text x="243.30" y="38.80" font-size="10.00" fill="#d1d1d1" font-weight="normal" text-anchor="start" textLength="4.50" lengthAdjust="spacingAndGlyphs" stroke="#d1d1d1" stroke-width="0.3" stroke-linejoin="round">L</text>
<text x="248.50" y="38.80" font-size="10.10" fill="#0aa189" font-weight="normal" text-anchor="start" textLength="34.00" lengthAdjust="spacingAndGlyphs" stroke="#0aa189" stroke-width="0.3" stroke-linejoin="round">0.28381</text>
<text x="289.80" y="38.80" font-size="10.00" fill="#d1d1d1" font-weight="normal" text-anchor="start" textLength="5.40" lengthAdjust="spacingAndGlyphs" stroke="#d1d1d1" stroke-width="0.3" stroke-linejoin="round">C</text>
<text x="295.90" y="38.80" font-size="10.10" fill="#0aa189" font-weight="normal" text-anchor="start" textLength="34.90" lengthAdjust="spacingAndGlyphs" stroke="#0aa189" stroke-width="0.3" stroke-linejoin="round">0.29153</text>
<text x="338.20" y="38.80" font-size="10.10" fill="#0aa189" font-weight="normal" text-anchor="start" textLength="39.50" lengthAdjust="spacingAndGlyphs" stroke="#0aa189" stroke-width="0.3" stroke-linejoin="round">+0.00745</text>
<text x="382.00" y="38.80" font-size="10.10" fill="#0aa189" font-weight="normal" text-anchor="start" textLength="37.10" lengthAdjust="spacingAndGlyphs" stroke="#0aa189" stroke-width="0.3" stroke-linejoin="round">(+2.62%)</text>
<text x="15.60" y="52.80" font-size="10.00" fill="#d1d1d1" font-weight="normal" text-anchor="start" textLength="13.00" lengthAdjust="spacingAndGlyphs" stroke="#d1d1d1" stroke-width="0.3" stroke-linejoin="round">Vol</text>
<text x="39.10" y="52.80" font-size="10.00" fill="#d1d1d1" font-weight="normal" text-anchor="start" textLength="16.80" lengthAdjust="spacingAndGlyphs" stroke="#d1d1d1" stroke-width="0.3" stroke-linejoin="round">APR</text>
<text x="62.30" y="52.90" font-size="10.10" fill="#26a69a" font-weight="normal" text-anchor="start" textLength="24.60" lengthAdjust="spacingAndGlyphs" stroke="#26a69a" stroke-width="0.3" stroke-linejoin="round">48.24</text>
<text x="89.00" y="52.90" font-size="10.10" fill="#26a69a" font-weight="normal" text-anchor="start" textLength="6.00" lengthAdjust="spacingAndGlyphs" stroke="#26a69a" stroke-width="0.3" stroke-linejoin="round">K</text>
<text x="970.80" y="54.20" font-size="10.60" fill="#d1d1d1" font-weight="normal" text-anchor="start" textLength="35.40" lengthAdjust="spacingAndGlyphs" stroke="#d1d1d1" stroke-width="0.3" stroke-linejoin="round">0.32500</text>
<text x="970.80" y="85.47" font-size="10.60" fill="#d1d1d1" font-weight="normal" text-anchor="start" textLength="35.40" lengthAdjust="spacingAndGlyphs" stroke="#d1d1d1" stroke-width="0.3" stroke-linejoin="round">0.32000</text>
<text x="970.80" y="116.74" font-size="10.60" fill="#d1d1d1" font-weight="normal" text-anchor="start" textLength="35.40" lengthAdjust="spacingAndGlyphs" stroke="#d1d1d1" stroke-width="0.3" stroke-linejoin="round">0.31500</text>
<text x="970.80" y="148.01" font-size="10.60" fill="#d1d1d1" font-weight="normal" text-anchor="start" textLength="35.40" lengthAdjust="spacingAndGlyphs" stroke="#d1d1d1" stroke-width="0.3" stroke-linejoin="round">0.31000</text>
<text x="970.80" y="179.28" font-size="10.60" fill="#d1d1d1" font-weight="normal" text-anchor="start" textLength="35.40" lengthAdjust="spacingAndGlyphs" stroke="#d1d1d1" stroke-width="0.3" stroke-linejoin="round">0.30500</text>
<text x="970.80" y="210.55" font-size="10.60" fill="#d1d1d1" font-weight="normal" text-anchor="start" textLength="35.40" lengthAdjust="spacingAndGlyphs" stroke="#d1d1d1" stroke-width="0.3" stroke-linejoin="round">0.30000</text>
<text x="970.80" y="241.82" font-size="10.60" fill="#d1d1d1" font-weight="normal" text-anchor="start" textLength="35.40" lengthAdjust="spacingAndGlyphs" stroke="#d1d1d1" stroke-width="0.3" stroke-linejoin="round">0.29500</text>
<text x="970.80" y="273.09" font-size="10.60" fill="#d1d1d1" font-weight="normal" text-anchor="start" textLength="35.40" lengthAdjust="spacingAndGlyphs" stroke="#d1d1d1" stroke-width="0.3" stroke-linejoin="round">0.29000</text>
<text x="970.80" y="304.36" font-size="10.60" fill="#d1d1d1" font-weight="normal" text-anchor="start" textLength="35.40" lengthAdjust="spacingAndGlyphs" stroke="#d1d1d1" stroke-width="0.3" stroke-linejoin="round">0.28500</text>
<text x="970.80" y="335.63" font-size="10.60" fill="#d1d1d1" font-weight="normal" text-anchor="start" textLength="35.40" lengthAdjust="spacingAndGlyphs" stroke="#d1d1d1" stroke-width="0.3" stroke-linejoin="round">0.28000</text>
<text x="970.80" y="366.90" font-size="10.60" fill="#d1d1d1" font-weight="normal" text-anchor="start" textLength="35.40" lengthAdjust="spacingAndGlyphs" stroke="#d1d1d1" stroke-width="0.3" stroke-linejoin="round">0.27500</text>
<text x="970.80" y="398.17" font-size="10.60" fill="#d1d1d1" font-weight="normal" text-anchor="start" textLength="35.40" lengthAdjust="spacingAndGlyphs" stroke="#d1d1d1" stroke-width="0.3" stroke-linejoin="round">0.27000</text>
<text x="970.80" y="429.44" font-size="10.60" fill="#d1d1d1" font-weight="normal" text-anchor="start" textLength="35.40" lengthAdjust="spacingAndGlyphs" stroke="#d1d1d1" stroke-width="0.3" stroke-linejoin="round">0.26500</text>
<text x="970.80" y="460.71" font-size="10.60" fill="#d1d1d1" font-weight="normal" text-anchor="start" textLength="35.40" lengthAdjust="spacingAndGlyphs" stroke="#d1d1d1" stroke-width="0.3" stroke-linejoin="round">0.26000</text>
<text x="970.80" y="491.98" font-size="10.60" fill="#d1d1d1" font-weight="normal" text-anchor="start" textLength="35.40" lengthAdjust="spacingAndGlyphs" stroke="#d1d1d1" stroke-width="0.3" stroke-linejoin="round">0.25500</text>
<rect x="964" y="253" width="47.5" height="26" rx="1.5" fill="#089981"/>
<text x="970.80" y="264.00" font-size="10.60" fill="#ffffff" font-weight="normal" text-anchor="start" textLength="35.40" lengthAdjust="spacingAndGlyphs" stroke="#ffffff" stroke-width="0.3" stroke-linejoin="round">0.29153</text>
<text x="970.80" y="275.60" font-size="10.60" fill="#e6f5f2" font-weight="normal" text-anchor="start" textLength="24.60" lengthAdjust="spacingAndGlyphs" stroke="#e6f5f2" stroke-width="0.3" stroke-linejoin="round">01:23</text>
<rect x="963.9" y="500.9" width="44.2" height="14.4" rx="1.2" fill="#26a69a"/>
<text x="970.60" y="511.90" font-size="10.60" fill="#ffffff" font-weight="normal" text-anchor="start" textLength="24.60" lengthAdjust="spacingAndGlyphs" stroke="#ffffff" stroke-width="0.3" stroke-linejoin="round">48.24</text>
<text x="997.60" y="511.90" font-size="10.60" fill="#ffffff" font-weight="normal" text-anchor="start" textLength="5.80" lengthAdjust="spacingAndGlyphs" stroke="#ffffff" stroke-width="0.3" stroke-linejoin="round">K</text>
<text x="37.90" y="533.80" font-size="10.60" fill="#d1d1d1" font-weight="normal" text-anchor="middle" textLength="24.60" lengthAdjust="spacingAndGlyphs" stroke="#d1d1d1" stroke-width="0.3" stroke-linejoin="round">21:00</text>
<text x="100.37" y="533.80" font-size="10.60" fill="#d1d1d1" font-weight="normal" text-anchor="middle" textLength="5.20" lengthAdjust="spacingAndGlyphs" stroke="#d1d1d1" stroke-width="0.3" stroke-linejoin="round">3</text>
<text x="162.84" y="533.80" font-size="10.60" fill="#d1d1d1" font-weight="normal" text-anchor="middle" textLength="24.60" lengthAdjust="spacingAndGlyphs" stroke="#d1d1d1" stroke-width="0.3" stroke-linejoin="round">03:00</text>
<text x="225.31" y="533.80" font-size="10.60" fill="#d1d1d1" font-weight="normal" text-anchor="middle" textLength="24.60" lengthAdjust="spacingAndGlyphs" stroke="#d1d1d1" stroke-width="0.3" stroke-linejoin="round">06:00</text>
<text x="287.78" y="533.80" font-size="10.60" fill="#d1d1d1" font-weight="normal" text-anchor="middle" textLength="24.60" lengthAdjust="spacingAndGlyphs" stroke="#d1d1d1" stroke-width="0.3" stroke-linejoin="round">09:00</text>
<text x="350.25" y="533.80" font-size="10.60" fill="#d1d1d1" font-weight="normal" text-anchor="middle" textLength="24.60" lengthAdjust="spacingAndGlyphs" stroke="#d1d1d1" stroke-width="0.3" stroke-linejoin="round">12:00</text>
<text x="412.72" y="533.80" font-size="10.60" fill="#d1d1d1" font-weight="normal" text-anchor="middle" textLength="24.60" lengthAdjust="spacingAndGlyphs" stroke="#d1d1d1" stroke-width="0.3" stroke-linejoin="round">15:00</text>
<text x="475.19" y="533.80" font-size="10.60" fill="#d1d1d1" font-weight="normal" text-anchor="middle" textLength="24.60" lengthAdjust="spacingAndGlyphs" stroke="#d1d1d1" stroke-width="0.3" stroke-linejoin="round">18:00</text>
<text x="537.66" y="533.80" font-size="10.60" fill="#d1d1d1" font-weight="normal" text-anchor="middle" textLength="24.60" lengthAdjust="spacingAndGlyphs" stroke="#d1d1d1" stroke-width="0.3" stroke-linejoin="round">21:00</text>
<text x="600.13" y="533.80" font-size="10.60" fill="#d1d1d1" font-weight="normal" text-anchor="middle" textLength="5.20" lengthAdjust="spacingAndGlyphs" stroke="#d1d1d1" stroke-width="0.3" stroke-linejoin="round">4</text>
<text x="662.60" y="533.80" font-size="10.60" fill="#d1d1d1" font-weight="normal" text-anchor="middle" textLength="24.60" lengthAdjust="spacingAndGlyphs" stroke="#d1d1d1" stroke-width="0.3" stroke-linejoin="round">03:00</text>
<text x="725.07" y="533.80" font-size="10.60" fill="#d1d1d1" font-weight="normal" text-anchor="middle" textLength="24.60" lengthAdjust="spacingAndGlyphs" stroke="#d1d1d1" stroke-width="0.3" stroke-linejoin="round">06:00</text>
<text x="787.54" y="533.80" font-size="10.60" fill="#d1d1d1" font-weight="normal" text-anchor="middle" textLength="24.60" lengthAdjust="spacingAndGlyphs" stroke="#d1d1d1" stroke-width="0.3" stroke-linejoin="round">09:00</text>
<text x="850.01" y="533.80" font-size="10.60" fill="#d1d1d1" font-weight="normal" text-anchor="middle" textLength="24.60" lengthAdjust="spacingAndGlyphs" stroke="#d1d1d1" stroke-width="0.3" stroke-linejoin="round">12:00</text>
<text x="912.48" y="533.80" font-size="10.60" fill="#d1d1d1" font-weight="normal" text-anchor="middle" textLength="24.60" lengthAdjust="spacingAndGlyphs" stroke="#d1d1d1" stroke-width="0.3" stroke-linejoin="round">15:00</text>
<g transform="translate(10.2,558.15) scale(0.69)" fill="#e0e0e0">
<path d="M14 22H7V11H0V4h14v18z"/><path d="M28 22h-8l7.5-18h8L28 22z"/><circle cx="20" cy="8" r="4"/>
</g>
<text x="41.80" y="573.20" font-size="16.90" fill="#e0e0e0" font-weight="normal" text-anchor="start" textLength="100.80" lengthAdjust="spacingAndGlyphs" stroke="#e0e0e0" stroke-width="0.8" stroke-linejoin="round">TradingView</text>
</g>
</svg>
</body></html>
